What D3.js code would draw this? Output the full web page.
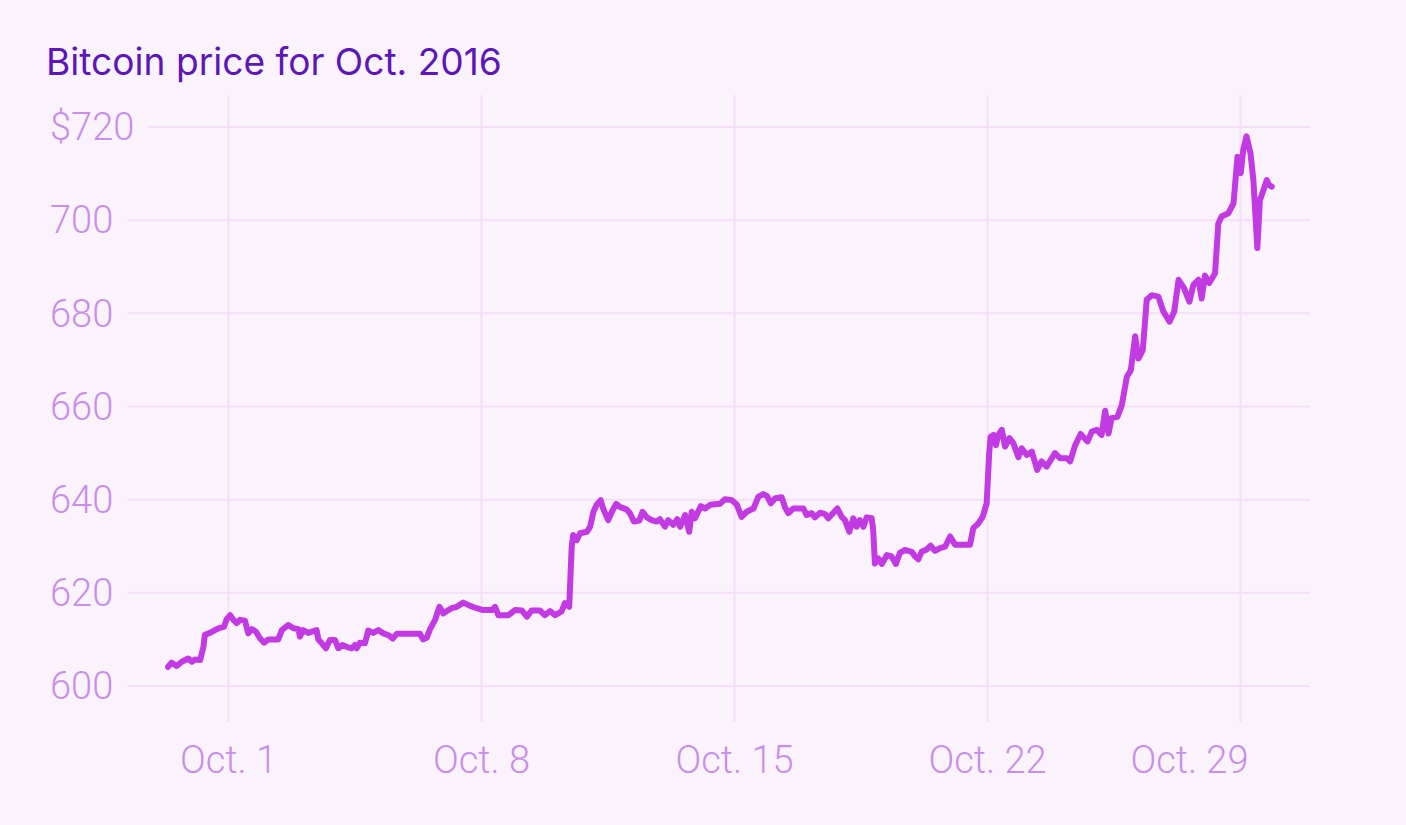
<!DOCTYPE html>
<html>
<head>
<meta charset="utf-8">
<script src="https://cdn.jsdelivr.net/npm/d3@7"></script>
<style>
  html, body { margin: 0; padding: 0; background: #fbf3fc; }
  svg { display: block; }
</style>
</head>
<body>
<svg id="chart" width="1406" height="825"></svg>
<script>
// ---- data (days relative to Oct. 1, 2016 00:00; price in USD) ----
const dayOffsets = [
  -1.66,-1.56,-1.42,-1.28,-1.10,-1.00,-0.91,-0.77,-0.68,-0.64,-0.50,-0.36,-0.22,-0.11,-0.04,
  0.06,0.15,0.24,0.33,0.47,0.56,0.66,0.77,0.89,1.00,1.12,1.39,1.49,1.67,1.81,1.95,1.99,2.08,
  2.22,2.45,2.50,2.59,2.71,2.82,2.96,3.05,3.17,3.28,3.42,3.51,3.56,3.65,3.79,3.88,4.02,4.16,
  4.30,4.44,4.56,4.67,5.31,5.40,5.50,5.59,5.73,5.85,5.96,6.10,6.19,6.33,6.51,6.70,6.88,7.06,
  7.30,7.39,7.48,7.76,7.94,8.13,8.27,8.40,8.63,8.77,8.91,9.05,9.23,9.32,9.44,9.51,9.55,9.65,
  9.74,9.93,10.02,10.11,10.20,10.31,10.38,10.52,10.62,10.74,10.85,11.03,11.12,11.23,11.38,
  11.47,11.59,11.72,11.86,11.95,12.09,12.18,12.32,12.43,12.51,12.65,12.76,12.83,12.92,13.08,
  13.20,13.34,13.61,13.75,13.94,14.08,14.21,14.35,14.54,14.67,14.81,14.91,15.02,15.14,15.32,
  15.41,15.50,15.64,15.92,16.01,16.15,16.24,16.38,16.52,16.61,16.75,16.86,16.98,17.07,17.19,
  17.30,17.39,17.48,17.58,17.67,17.81,17.85,17.90,17.99,18.09,18.23,18.36,18.48,18.59,18.73,
  18.92,19.01,19.10,19.19,19.33,19.44,19.56,19.70,19.84,19.98,20.12,20.25,20.53,20.62,20.76,
  20.88,20.99,21.06,21.10,21.18,21.25,21.31,21.41,21.50,21.62,21.73,21.87,21.96,22.10,22.24,
  22.39,22.51,22.65,22.88,23.02,23.21,23.30,23.44,23.59,23.78,23.90,24.04,24.17,24.27,24.36,
  24.45,24.61,24.73,24.87,24.98,25.10,25.19,25.31,25.42,25.56,25.74,25.88,26.05,26.18,26.30,
  26.45,26.60,26.71,26.85,26.94,27.03,27.15,27.31,27.40,27.49,27.68,27.82,27.93,28.02,28.09,
  28.18,28.29,28.37,28.48,28.55,28.65,28.74,28.81,28.88
];
const prices = [
  604.1,605.0,604.3,605.2,605.9,605.2,605.7,605.6,608.4,611.0,611.4,612.0,612.5,612.7,614.3,
  615.2,614.2,613.5,614.2,614.0,611.3,612.2,611.7,610.2,609.3,610.0,610.0,612.0,613.1,612.4,612.2,610.6,612.0,
  611.4,612.0,610.0,609.2,608.1,609.9,609.9,608.1,608.8,608.4,608.1,608.8,608.1,609.3,609.2,611.9,611.4,612.0,
  611.3,610.9,610.2,611.2,611.2,610.0,610.4,612.2,614.2,617.0,615.6,616.3,616.7,617.0,617.9,617.2,616.7,616.3,
  616.3,617.0,615.2,615.2,616.3,616.2,614.9,616.2,616.2,615.2,616.1,615.2,616.0,617.8,617.0,629.9,632.4,631.3,
  632.8,633.1,634.2,637.4,638.9,639.9,638.1,635.6,637.4,639.1,638.4,637.9,637.1,635.3,635.5,
  637.4,636.2,635.6,635.3,635.8,634.2,635.6,634.6,635.8,634.2,636.7,633.1,637.4,636.0,638.6,
  638.1,638.9,639.1,640.1,639.9,638.9,636.3,637.4,638.1,640.6,641.2,640.8,639.2,640.3,640.5,
  638.4,637.1,638.1,638.1,636.7,637.1,636.2,637.2,636.9,636.0,637.2,638.1,636.3,635.6,633.1,
  636.0,634.2,635.6,634.2,636.2,636.0,633.5,626.3,627.4,626.2,628.1,627.8,626.2,628.6,629.2,
  628.8,627.8,627.2,628.8,629.3,630.1,629.0,629.6,629.9,632.1,630.3,630.3,630.3,633.9,634.9,
  636.3,639.2,649.9,653.5,653.9,651.7,653.9,655.0,651.4,653.2,652.1,649.1,651.0,649.6,650.3,
  646.4,648.2,647.1,650.0,648.9,648.9,648.2,651.7,654.1,652.5,654.6,655.0,653.9,659.1,654.2,
  657.5,657.8,660.3,666.4,667.8,675.1,670.3,672.1,682.9,683.9,683.6,680.4,678.2,680.4,687.2,
  685.4,682.5,686.1,687.2,683.2,688.1,686.5,688.6,699.3,700.8,701.5,703.6,713.6,710.1,715.1,
  718.0,714.4,708.6,694.0,704.3,706.5,708.6,707.5,707.2
];
const yTicks = [600, 620, 640, 660, 680, 700, 720];
const yTickLabels = ["600", "620", "640", "660", "680", "700", "$720"];
const xTickDates = ["2016-10-01", "2016-10-08", "2016-10-15", "2016-10-22", "2016-10-29"];
const xTickLabels = ["Oct. 1", "Oct. 8", "Oct. 15", "Oct. 22", "Oct. 29"];
const titleText = "Bitcoin price for Oct. 2016";

// ---- setup ----
const parse = d3.utcParse("%Y-%m-%d");
const base = parse("2016-10-01");
const DAY = 86400000;
const series = dayOffsets.map((d, i) => ({ date: new Date(base.getTime() + d * DAY), price: prices[i] }));
const xTicks = xTickDates.map(parse);

const x = d3.scaleUtc().domain([xTicks[0], xTicks[xTicks.length - 1]]).range([228, 1240]);
const y = d3.scaleLinear().domain([600, 720]).range([686, 127]);

const bg = "#fbf3fc";
const gridColor = "#f5def7";
const labelColor = "#c88ee8";
const lineColor = "#c23ae2";
const titleColor = "#5c17b6";

const svg = d3.select("#chart");
svg.append("rect").attr("width", 1406).attr("height", 825).attr("fill", bg);

// title, fitted to the reference width
const title = svg.append("text")
  .attr("x", 46).attr("y", 75)
  .attr("fill", titleColor)
  .style("font-family", "Inter, 'Open Sans', sans-serif")
  .style("font-size", "33px")
  .style("font-weight", 400)
  .text(titleText);
const tw = title.node().getComputedTextLength();
title.style("font-size", (33 * 456 / tw).toFixed(2) + "px");

// vertical grid (x axis ticks)
const xAxis = d3.axisBottom(x)
  .tickValues(xTicks)
  .tickSize(-627)
  .tickPadding(24)
  .tickFormat((d, i) => xTickLabels[i]);
const gx = svg.append("g").attr("transform", "translate(0,722)").call(xAxis);
gx.select(".domain").remove();
gx.selectAll(".tick line").attr("stroke", gridColor).attr("stroke-width", 2);
gx.selectAll(".tick text")
  .attr("fill", labelColor)
  .style("font-family", "Roboto, sans-serif")
  .style("font-size", "38px")
  .style("font-weight", 300);
gx.selectAll(".tick text").filter((d, i) => i === xTicks.length - 1)
  .attr("text-anchor", "end").attr("dx", "8");

// horizontal grid (y axis)
const gy = svg.append("g");
const yRows = gy.selectAll("g.row").data(yTicks).join("g").attr("class", "row")
  .attr("transform", d => `translate(0,${y(d)})`);
yRows.append("line")
  .attr("x1", 40).attr("x2", 1310)
  .attr("stroke", gridColor).attr("stroke-width", 2);
const yRects = yRows.append("rect").attr("fill", bg);
const yTexts = yRows.append("text")
  .attr("x", 50).attr("dy", "0.35em")
  .attr("fill", labelColor)
  .style("font-family", "Roboto, sans-serif")
  .style("font-size", "38px")
  .style("font-weight", 300)
  .text((d, i) => yTickLabels[i]);
yTexts.each(function () {
  const b = this.getBBox();
  d3.select(this.previousSibling)
    .attr("x", b.x - 10).attr("y", -4)
    .attr("width", b.width + 24).attr("height", 8);
});

// line
const line = d3.line().x(d => x(d.date)).y(d => y(d.price)).curve(d3.curveLinear);
svg.append("path")
  .datum(series)
  .attr("d", line)
  .attr("fill", "none")
  .attr("stroke", lineColor)
  .attr("stroke-width", 6)
  .attr("stroke-linejoin", "round")
  .attr("stroke-linecap", "round");
</script>
</body>
</html>
